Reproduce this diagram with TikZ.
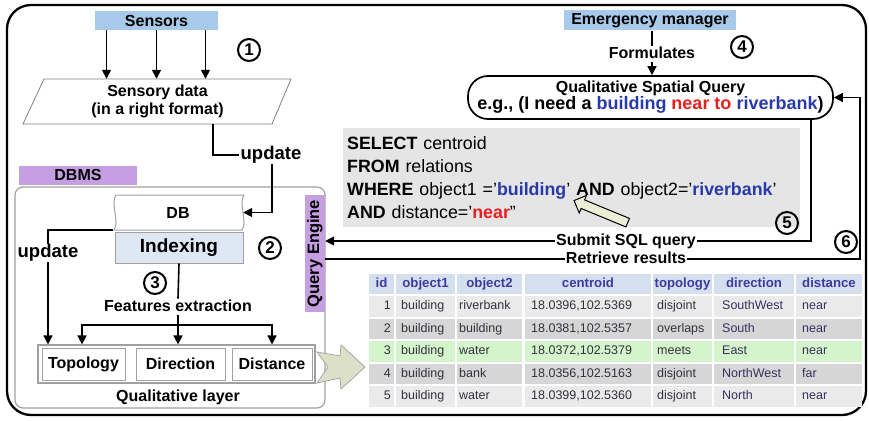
\documentclass[tikz,border=0pt]{standalone}
\usepackage{fontspec}
\setmainfont{Liberation Sans}
\usetikzlibrary{arrows.meta,shapes.arrows,calc}

\definecolor{skyb}{RGB}{168,202,234}
\definecolor{dbmsp}{RGB}{198,158,226}
\definecolor{idxfill}{RGB}{222,231,244}
\definecolor{sqlgray}{RGB}{229,229,229}
\definecolor{hdrfill}{RGB}{213,224,238}
\definecolor{hdrtext}{RGB}{62,58,160}
\definecolor{rowlight}{RGB}{234,234,234}
\definecolor{rowdark}{RGB}{214,214,214}
\definecolor{rowgreen}{RGB}{212,244,204}
\definecolor{qblue}{RGB}{40,58,170}
\definecolor{qred}{RGB}{232,32,32}
\definecolor{framegray}{RGB}{160,160,160}
\definecolor{bigarrowfill}{RGB}{221,224,200}
\definecolor{ptrfill}{RGB}{236,239,214}
\definecolor{celltext}{RGB}{50,50,60}
\definecolor{dirtext}{RGB}{58,48,96}

\newcommand\lblfont{\fontsize{16}{18}\selectfont\bfseries}
\newcommand\updfont{\fontsize{18.5}{20}\selectfont\bfseries}
\newcommand\idxfont{\fontsize{19}{21}\selectfont\bfseries}
\newcommand\numfont{\fontsize{17}{17}\selectfont\bfseries}
\newcommand\sqlfont{\fontsize{17.8}{23}\selectfont}
\newcommand\tabfont{\fontsize{12.5}{14}\selectfont}
\newcommand\headfont{\fontsize{13.2}{14}\selectfont\bfseries}

% cell backgrounds of one table row: #1 = centre y, #2 = fill
\newcommand{\tabcells}[2]{%
  \foreach \xa/\xb in {369/394,396/455,457/522,525/651,653/712,714/794,796/862}
    \fill[#2] (\xa,{#1-10.25}) rectangle (\xb,{#1+10.25});}

% texts of one data row
\newcommand{\tabrow}[8]{%
  \node[tcell, anchor=east] (id#2) at (391,#1) {#2};
  \node[tcell, anchor=west] (oa#2) at (401,#1) {#3};
  \node[tcell, anchor=west] (ob#2) at (459,#1) {#4};
  \node[tcell, anchor=west] (ce#2) at (531,#1) {#5};
  \node[tcell, anchor=west] (to#2) at (657,#1) {#6};
  \node[tcell, anchor=west, text=dirtext] (di#2) at (722,#1) {#7};
  \node[tcell, anchor=west, text=dirtext] (ds#2) at (802,#1) {#8};}

\begin{document}
\begin{tikzpicture}[x=1pt,y=-1pt,
  lbl/.style={font=\lblfont, inner sep=1pt, text height=11.5pt, text depth=3pt},
  updlbl/.style={font=\updfont, inner sep=1pt, text height=13pt, text depth=3.5pt},
  arr/.style={-{Triangle[length=9pt,width=9pt]}, line width=1.6pt},
  ln/.style={line width=1.6pt},
  circnum/.style={circle, draw, line width=2pt, minimum size=22pt, inner sep=0pt, font=\numfont},
  bluebox/.style={fill=skyb, inner sep=0pt, font=\lblfont},
  purplebox/.style={fill=dbmsp, inner sep=0pt, font=\lblfont},
  cellbox/.style={draw=framegray, line width=1pt, fill=white, minimum height=32pt, inner sep=0pt, font=\lblfont},
  tcell/.style={font=\tabfont, inner sep=0pt, text=celltext, text height=9pt, text depth=2.5pt},
  thead/.style={font=\headfont, inner sep=0pt, text=hdrtext, text height=9.5pt, text depth=2.7pt}]
\useasboundingbox (0,0) rectangle (869,420);

% outer frame
\draw[line width=2.3pt, rounded corners=24pt] (7,5) rectangle (866,415);

% ---- sensing ----
\node[bluebox, minimum width=123pt, minimum height=19pt] (sensors) at (156.5,20.5) {Sensors};
\node[minimum width=230pt, minimum height=45pt, inner sep=0pt, align=center, font=\lblfont] (sdata) at (157.5,101.5) {Sensory data\\(in a right format)};
\draw[gray, line width=0.8pt] (44,79) -- (291,79) -- (272,124) -- (23,124) -- cycle;
\foreach \dx in {-50,0,49}
  \draw[arr] ([xshift=\dx pt]sensors.south) -- ([xshift=\dx pt]sensors.south |- sdata.north);
\node[circnum] (n1) at (249,50) {1};

\node[updlbl] (upd1) at (271,155) {update};
\draw[ln] ([xshift=55.5pt]sdata.south) |- (upd1.west);

% ---- DBMS ----
\node[purplebox, minimum width=118pt, minimum height=19pt] (dbms) at (78,175) {DBMS};
\draw[framegray, line width=1.2pt, rounded corners=8pt] (15,187) rectangle (325,408);

\node[minimum width=130pt, minimum height=35pt, inner sep=0pt, font=\lblfont] (db) at (178,212.5) {DB};
\draw[framegray, line width=1pt] (116,195) -- (244,195)
  .. controls (238,203) and (248,222) .. (242,230) -- (114,230)
  .. controls (120,222) and (110,203) .. (116,195);
\node[draw=framegray, line width=1pt, fill=idxfill, minimum width=128pt, minimum height=31pt, inner sep=0pt, font=\idxfont] (idx) at (179,247.5) {Indexing};
\draw[arr] ([xshift=1pt]upd1.south) |- (db.east);

\node[circnum] (n2) at (270,248) {2};
\node[circnum] (n3) at (155,283) {3};

\node[updlbl] (upd2) at (48,253) {update};
\draw[ln] (db.south west) -| (upd2.north);

\node[lbl] (feat) at (178,307) {Features extraction};
\draw[ln] (idx.south) -- (feat.north);
\coordinate (fork) at (178,325);
\draw[ln] (feat.south) -- (fork);

% qualitative layer
\node[draw=framegray, line width=1.2pt, minimum width=277pt, minimum height=38pt, inner sep=0pt] (ql) at (176.5,364) {};
\node[cellbox, minimum width=83pt] (topo) at (83.5,364) {Topology};
\node[cellbox, minimum width=89pt] (dir) at (180.5,364) {Direction};
\node[cellbox, minimum width=80pt] (dist) at (272,364) {Distance};
\node[lbl] (qltext) at (178,397) {Qualitative layer};

\draw[arr] (upd2.south) -- (upd2.south |- ql.north);
\draw[arr] (fork) -| ([xshift=-1.5pt]topo.north |- ql.north);
\draw[arr] (fork) -- (fork |- ql.north);
\draw[arr] (fork) -| (dist.north |- ql.north);

\node[purplebox, rotate=90, minimum width=117pt, minimum height=20pt, font=\fontsize{16.5}{18}\selectfont\bfseries] (qe) at (315,253.5) {Query Engine};

% ---- query side ----
\node[bluebox, minimum width=172pt, minimum height=20pt] (em) at (650,20.5) {Emergency manager};
\node[lbl] (form) at (652,54) {Formulates};
\draw[ln] (em.south -| form.north) -- (form.north);
\node[circnum] (n4) at (742,47) {4};

\node[draw, line width=1.7pt, rounded corners=20pt, minimum width=365pt, minimum height=43pt, inner sep=0pt, align=center, font=\fontsize{16}{17}\selectfont\bfseries] (qsq) at (650.5,97.5)
  {Qualitative Spatial Query\\{\fontsize{18}{18}\selectfont e.g., (I need a {\color{qblue}building} {\color{qred}near to} {\color{qblue}riverbank})}};
\draw[arr] (form.south) -- (form.south |- qsq.north);

\node[fill=sqlgray, anchor=north west, text width=449pt, minimum height=99pt, inner xsep=4pt, inner ysep=3pt, align=left, font=\sqlfont] (sql) at (343,128)
  {\textbf{SELECT} centroid\\
   \textbf{FROM} relations\\
   \textbf{WHERE} object1 ='\textbf{\color{qblue}building}' \textbf{AND} object2='\textbf{\color{qblue}riverbank}'\\
   \textbf{AND} distance='\textbf{\color{qred}near}''};
\node[single arrow, draw, line width=1pt, fill=ptrfill, minimum height=58pt, minimum width=19pt,
      single arrow head extend=3.5pt, inner sep=2.8pt, rotate=157.6] (ptr) at (603,212.5) {};

\node[circnum] (n5) at (787,223) {5};
\node[circnum] (n6) at (846,242) {6};

\node[lbl] (submit) at (626,241) {Submit SQL query};
\draw[arr] (submit.west) -- (submit.west -| qe.south);
\draw[ln] (submit.east) -| ([xshift=-23pt]qsq.south east);

\node[lbl] (retr) at (626,259) {Retrieve results};
\draw[ln] (retr.west) -- (retr.west -| qe.south);
\coordinate (rc) at (860,259);
\draw[arr] (retr.east) -- (rc) |- (qsq.east);

% arrow from the qualitative layer to the relation table
\filldraw[fill=bigarrowfill, draw=gray!70, line width=0.8pt]
  (317,352) -- (340,356) -- (341,345) -- (365,367) -- (341,389) -- (340,378) -- (317,383) -- (328,367) -- cycle;

% ---- relation table ----
\tabcells{284}{hdrfill}
\node[thead] (hid) at (381.5,284) {id};
\node[thead] (hoa) at (425.5,284) {object1};
\node[thead] (hob) at (489.5,284) {object2};
\node[thead] (hce) at (588,284) {centroid};
\node[thead] (hto) at (682.5,284) {topology};
\node[thead] (hdi) at (754,284) {direction};
\node[thead] (hds) at (829,284) {distance};

\tabcells{306.5}{rowlight}
\tabrow{306.5}{1}{building}{riverbank}{18.0396,102.5369}{disjoint}{SouthWest}{near}
\tabcells{329}{rowdark}
\tabrow{329}{2}{building}{building}{18.0381,102.5357}{overlaps}{South}{near}
\tabcells{351.5}{rowgreen}
\tabrow{351.5}{3}{building}{water}{18.0372,102.5379}{meets}{East}{near}
\tabcells{374}{rowdark}
\tabrow{374}{4}{building}{bank}{18.0356,102.5163}{disjoint}{NorthWest}{far}
\tabcells{396.5}{rowlight}
\tabrow{396.5}{5}{building}{water}{18.0399,102.5360}{disjoint}{North}{near}
\end{tikzpicture}
\end{document}
